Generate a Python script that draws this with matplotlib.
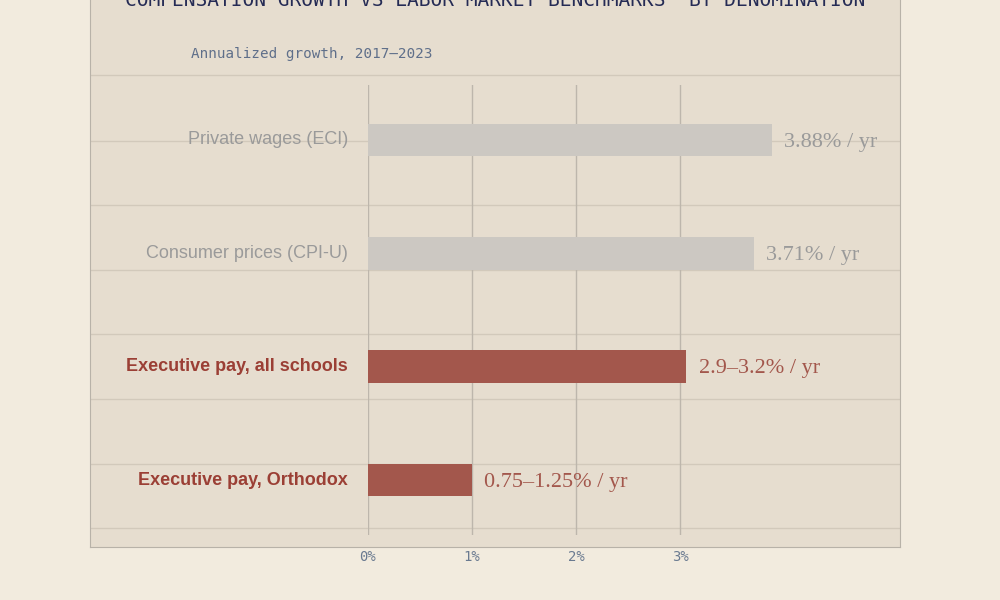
import matplotlib
matplotlib.use("Agg")
import matplotlib.pyplot as plt

categories = ["Private wages (ECI)", "Consumer prices (CPI-U)", "Executive pay, all schools", "Executive pay, Orthodox"]
values = [3.88, 3.71, 3.06, 1.0]
value_labels = ["3.88% / yr", "3.71% / yr", "2.9–3.2% / yr", "0.75–1.25% / yr"]
highlight = [False, False, True, True]
xticks = [0, 1, 2, 3]
xtick_labels = ["0%", "1%", "2%", "3%"]

fig = plt.figure(figsize=(10, 6), dpi=100)
fig.patch.set_facecolor("#f2ebde")

panel = fig.add_axes([0.09, 0.088, 0.81, 0.95])
panel.set_facecolor("#e6ddcf")
panel.set_xlim(0, 1)
panel.set_ylim(600 - 52.8, 600 - 52.8 - 570)
panel.set_xticks([]); panel.set_yticks([])
for s in panel.spines.values():
    s.set_color("#b8b2a8")
for yy in [75, 141, 205, 270, 334, 399, 464, 528]:
    panel.axhline(yy, color="#d2c9bb", lw=1, zorder=0)

ax = fig.add_axes([0.368, 1 - 535 / 600, 0.532, 450 / 600])
ax.patch.set_alpha(0)
ax.set_xlim(0, 532 / 104)
ax.set_ylim(3.485, -0.485)
for s in ax.spines.values():
    s.set_visible(False)
for t in xticks:
    ax.axvline(t, color="#bdb6ac", lw=1, zorder=0)
ys = list(range(len(categories)))
for y, v, lab, vl, h in zip(ys, values, categories, value_labels, highlight):
    c = "#a3574c" if h else "#ccc8c2"
    tc = "#9b3f35" if h else "#9a9a9a"
    ax.barh(y, v, height=0.29, color=c, zorder=2)
    ax.text(v + 0.12, y + 0.02, vl, va="center", ha="left", fontsize=16,
            family="Liberation Serif", color="#a3574c" if h else "#9a9a9a")
    ax.text(-0.19, y, lab, va="center", ha="right", fontsize=13,
            family="Liberation Sans", color=tc, fontweight="bold" if h else "normal")
ax.set_yticks([])
ax.set_xticks(xticks)
ax.set_xticklabels(xtick_labels, family="DejaVu Sans Mono", fontsize=10, color="#6a7a90")
ax.tick_params(axis="x", length=0, pad=11)

fig.text(0.495, 1.0, "COMPENSATION GROWTH VS LABOR MARKET BENCHMARKS  BY DENOMINATION",
         ha="center", va="center", family="DejaVu Sans Mono", fontsize=14, color="#252b55")
fig.text(0.191, 1 - 54 / 600, "Annualized growth, 2017–2023", ha="left", va="center",
         family="DejaVu Sans Mono", fontsize=10.3, color="#5f6f8a")

fig.savefig("out.png", dpi=100, facecolor=fig.get_facecolor())
